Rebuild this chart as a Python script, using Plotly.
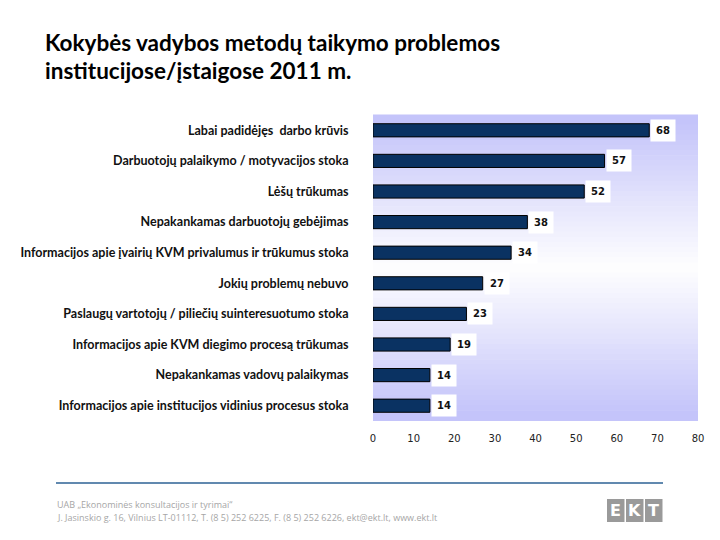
import plotly.graph_objects as go

categories = [
    "Labai padidėjęs  darbo krūvis",
    "Darbuotojų palaikymo / motyvacijos stoka",
    "Lėšų trūkumas",
    "Nepakankamas darbuotojų gebėjimas",
    "Informacijos apie įvairių KVM privalumus ir trūkumus stoka",
    "Jokių problemų nebuvo",
    "Paslaugų vartotojų / piliečių suinteresuotumo stoka",
    "Informacijos apie KVM diegimo procesą trūkumas",
    "Nepakankamas vadovų palaikymas",
    "Informacijos apie institucijos vidinius procesus stoka",
]
values = [68, 57, 52, 38, 34, 27, 23, 19, 14, 14]
x_ticks = [0, 10, 20, 30, 40, 50, 60, 70, 80]

title_lines = ["Kokybės vadybos metodų taikymo problemos", "institucijose/įstaigose 2011 m."]
footer_lines = [
    "UAB „Ekonominės konsultacijos ir tyrimai“",
    "J. Jasinskio g. 16, Vilnius LT-01112, T. (8 5) 252 6225, F. (8 5) 252 6226, ekt@ekt.lt, www.ekt.lt",
]
logo_letters = ["E", "K", "T"]

FONT = "Lato"
W, H = 720, 540
L, R, T, B = 373, 22, 115, 119
PW, PH = W - L - R, H - T - B


def px(x):
    return (x - L) / PW


def py(y):
    return (H - B - y) / PH


fig = go.Figure()
fig.add_trace(go.Bar(
    x=values, y=categories, orientation="h",
    marker=dict(color="#0a3262", line=dict(color="#000000", width=1)),
    hoverinfo="skip",
))

# data labels with white boxes
for v, c in zip(values, categories):
    fig.add_annotation(x=v, y=c, xref="x", yref="y", text=f"<b>{v}</b>",
                       showarrow=False, xanchor="left", yanchor="middle",
                       bgcolor="white", borderpad=5, xshift=1,
                       font=dict(family="DejaVu Sans", size=10, color="#111111"))

# gradient plot background
N = 60
for i in range(N):
    t0 = i / N
    t1 = (i + 1) / N
    tm = (t0 + t1) / 2
    m = min(1.0, abs(tm - 0.5) * 2.1)
    r = int(255 - (255 - 196) * m)
    g = int(255 - (255 - 196) * m)
    b = int(255 - (255 - 250) * m)
    fig.add_shape(type="rect", xref="x domain", yref="y domain",
                  x0=0, x1=1, y0=1 - t1, y1=1 - t0 + 0.002,
                  fillcolor=f"rgb({r},{g},{b})", line=dict(width=0), layer="below")

# title
for i, line in enumerate(title_lines):
    fig.add_annotation(x=px(43), y=py(43 + i * 27), xref="paper", yref="paper",
                       text=f"<b>{line}</b>", showarrow=False, xanchor="left", yanchor="middle",
                       font=dict(family=FONT, size=22.5, color="#000000"))

# footer line
fig.add_shape(type="line", xref="paper", yref="paper",
              x0=px(56), x1=px(663), y0=py(483), y1=py(483),
              line=dict(color="#2c6294", width=1.5))
for i, line in enumerate(footer_lines):
    fig.add_annotation(x=px(55), y=py(504 + i * 13), xref="paper", yref="paper",
                       text=line, showarrow=False, xanchor="left", yanchor="middle",
                       font=dict(family="Open Sans", size=9, color="#a6a6a6"))
# logo
for i, Lt in enumerate(logo_letters):
    x0 = 607 + i * 19
    fig.add_shape(type="rect", xref="paper", yref="paper",
                  x0=px(x0), x1=px(x0 + 17.5), y0=py(522), y1=py(499),
                  fillcolor="#9a9a9a", line=dict(width=0))
    fig.add_annotation(x=px(x0 + 8.75), y=py(510.5), xref="paper", yref="paper",
                       text=f"<b>{Lt}</b>", showarrow=False, xanchor="center", yanchor="middle",
                       font=dict(family="DejaVu Sans", size=16, color="white"))

fig.update_layout(
    width=W, height=H,
    margin=dict(l=L, r=R, t=T, b=B),
    paper_bgcolor="white", plot_bgcolor="rgba(0,0,0,0)",
    showlegend=False, bargap=0.57,
    xaxis=dict(range=[0, 80], tickvals=x_ticks, showgrid=False, zeroline=False,
               showline=False, ticks="outside", ticklen=8, tickcolor="rgba(0,0,0,0)",
               tickfont=dict(family="DejaVu Sans", size=10, color="#222222")),
    yaxis=dict(autorange="reversed", showgrid=False, zeroline=False, showline=False,
               automargin=False, ticks="outside", ticklen=21, tickcolor="rgba(0,0,0,0)",
               tickprefix="<b>", ticksuffix="</b>",
               tickfont=dict(family=FONT, size=12.5, color="#111111")),
)

fig.write_html("out.html", config={"displayModeBar": False},
               post_script="document.body.style.margin='0px';")
